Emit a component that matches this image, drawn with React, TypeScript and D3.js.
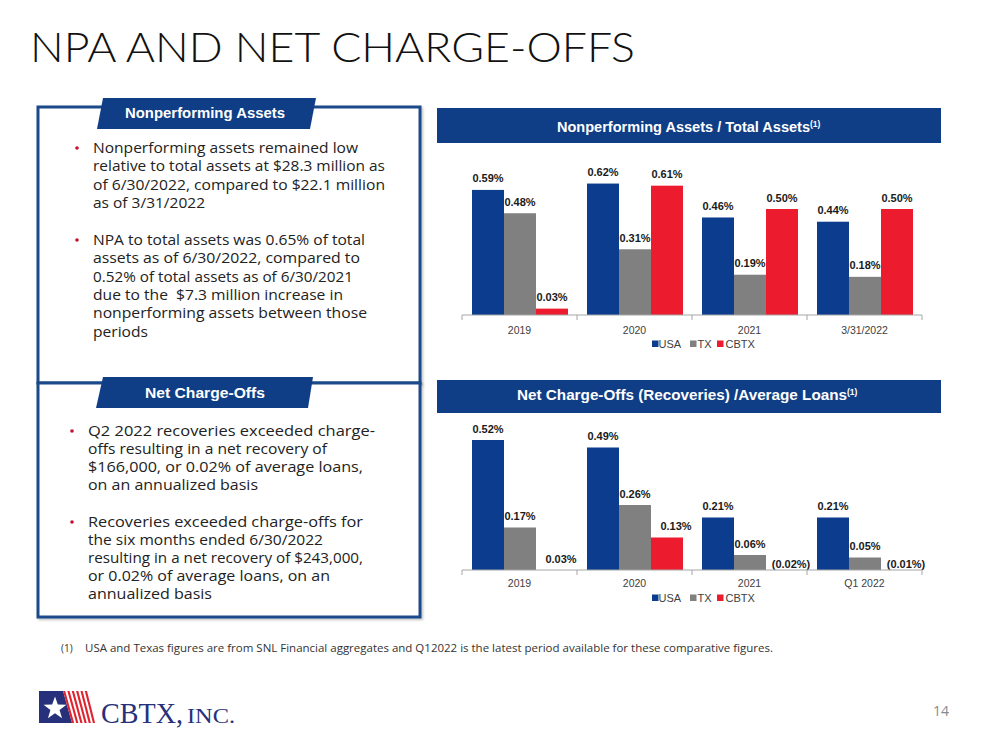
import React from 'react';
import * as d3 from 'd3';

// ---------- Data ----------
const seriesNames = ['USA', 'TX', 'CBTX'];
const seriesColors = ['#0b3c8d', '#808080', '#ec1b2e'];

const npaCategories = ['2019', '2020', '2021', '3/31/2022'];
const npaUSA = [0.59, 0.62, 0.46, 0.44];
const npaTX = [0.48, 0.31, 0.19, 0.18];
const npaCBTX = [0.03, 0.61, 0.5, 0.5];

const ncoCategories = ['2019', '2020', '2021', 'Q1 2022'];
const ncoUSA = [0.52, 0.49, 0.21, 0.21];
const ncoTX = [0.17, 0.26, 0.06, 0.05];
const ncoCBTX = [0.0, 0.13, -0.02, -0.01];
const ncoCBTXLabels = ['0.03%', '0.13%', '(0.02%)', '(0.01%)'];

const npaBullets: { lines: string[]; widths: number[] }[] = [
  {
    lines: [
      'Nonperforming assets remained low',
      'relative to total assets at $28.3 million as',
      'of 6/30/2022, compared to $22.1 million',
      'as of 3/31/2022',
    ],
    widths: [265, 292, 292, 112],
  },
  {
    lines: [
      'NPA to total assets was 0.65% of total',
      'assets as of 6/30/2022, compared to',
      '0.52% of total assets as of 6/30/2021',
      'due to the  $7.3 million increase in',
      'nonperforming assets between those',
      'periods',
    ],
    widths: [272, 267, 260, 250, 274, 55],
  },
];

const ncoBullets: { lines: string[]; widths: number[] }[] = [
  {
    lines: [
      'Q2 2022 recoveries exceeded charge-',
      'offs resulting in a net recovery of',
      '$166,000, or 0.02% of average loans,',
      'on an annualized basis',
    ],
    widths: [287, 239, 275, 170],
  },
  {
    lines: [
      'Recoveries exceeded charge-offs for',
      'the six months ended 6/30/2022',
      'resulting in a net recovery of $243,000,',
      'or 0.02% of average loans, on an',
      'annualized basis',
    ],
    widths: [275, 235, 275, 242, 124],
  },
];

const fmt = (v: number) =>
  v < 0 ? `(${Math.abs(v).toFixed(2)}%)` : `${v.toFixed(2)}%`;

const NAVY = '#0f3e86';
const BOX = '#1d4a8a';
const FONT = "'Open Sans', 'Liberation Sans', Arial, sans-serif";
const LAB = "'Liberation Sans', Arial, sans-serif";

type ChartProps = {
  categories: string[];
  series: number[][];
  labels: string[][];
  baseY: number;
  pxPerUnit: number;
  catY: number;
  legendY: number;
  labelDx: number[];
};

function BarChart({ categories, series, labels, baseY, pxPerUnit, catY, legendY, labelDx }: ChartProps) {
  const x0 = d3.scaleBand<string>().domain(categories).range([462, 922]).paddingInner(0).paddingOuter(0);
  const x1 = d3
    .scaleBand<string>()
    .domain(seriesNames)
    .range([10, x0.bandwidth() - 9])
    .padding(0);
  const y = d3.scaleLinear().domain([0, 1]).range([baseY, baseY - pxPerUnit]);
  const ticks = [...categories.map((c) => x0(c) as number), 922];

  const legendX = [652, 690, 717];
  const legendTextX = [658, 697, 725];

  return (
    <g>
      {categories.map((c, i) => (
        <g key={c} transform={`translate(${x0(c)},0)`}>
          {seriesNames.map((s, j) => {
            const v = series[j][i];
            const vv = Math.max(0, v);
            const top = y(vv);
            const bx = x1(s) as number;
            const bw = x1.bandwidth();
            return (
              <g key={s}>
                {vv > 0 && (
                  <rect x={bx} y={top} width={bw} height={y(0) - top} fill={seriesColors[j]} />
                )}
                <text
                  x={bx + bw / 2 + labelDx[j]}
                  y={v < 0 ? y(0) - 2.5 : top - 7.5}
                  textAnchor="middle"
                  fontFamily={LAB}
                  fontWeight="bold"
                  fontSize={11}
                  fill="#1a1a1a"
                >
                  {labels[j][i]}
                </text>
              </g>
            );
          })}
          <text
            x={x0.bandwidth() / 2}
            y={catY}
            textAnchor="middle"
            fontFamily={LAB}
            fontSize={10.5}
            fill="#404040"
          >
            {c}
          </text>
        </g>
      ))}
      <line x1={462} x2={922} y1={baseY} y2={baseY} stroke="#a6a6a6" strokeWidth={1} />
      {ticks.map((t, i) => (
        <line key={i} x1={t} x2={t} y1={baseY} y2={baseY + 5} stroke="#a6a6a6" strokeWidth={1} />
      ))}
      {seriesNames.map((s, j) => (
        <g key={s}>
          <rect x={legendX[j]} y={legendY - 3.5} width={6.5} height={6.5} fill={seriesColors[j]} />
          <text x={legendTextX[j] + 0.5} y={legendY + 4} fontFamily={LAB} fontSize={11} fill="#404040">
            {s}
          </text>
        </g>
      ))}
    </g>
  );
}

function Bullets({
  items,
  startYs,
  dotX,
  textX,
  step,
}: {
  items: { lines: string[]; widths: number[] }[];
  startYs: number[];
  dotX: number;
  textX: number;
  step: number;
}) {
  return (
    <g>
      {items.map((it, k) => (
        <g key={k}>
          <circle cx={dotX} cy={startYs[k] - 5} r={1.8} fill="#c8102e" />
          {it.lines.map((l, i) => (
            <text
              key={i}
              x={textX}
              y={startYs[k] + i * step}
              fontFamily={FONT}
              fontSize={15}
              fill="#222"
              textLength={it.widths[i]}
              lengthAdjust="spacingAndGlyphs"
              style={{ whiteSpace: 'pre' }}
            >
              {l}
            </text>
          ))}
        </g>
      ))}
    </g>
  );
}

function starPoints(cx: number, cy: number, R: number, r: number) {
  const pts: string[] = [];
  for (let i = 0; i < 10; i++) {
    const a = -Math.PI / 2 + (i * Math.PI) / 5;
    const rad = i % 2 === 0 ? R : r;
    pts.push(`${cx + rad * Math.cos(a)},${cy + rad * Math.sin(a)}`);
  }
  return pts.join(' ');
}

export default function App() {
  const stripes = d3.range(6);
  return (
    <svg
      width={999}
      height={750}
      style={{ position: 'absolute', left: 0, top: 0, background: '#ffffff' }}
    >
      <defs>
        <filter id="sh" x="-5%" y="-5%" width="110%" height="110%">
          <feDropShadow dx="1.5" dy="1.5" stdDeviation="1.2" floodColor="#000" floodOpacity="0.25" />
        </filter>
      </defs>
      <rect x={0} y={0} width={999} height={750} fill="#fff" />

      {/* Title */}
      <text
        x={30}
        y={62}
        fontFamily="'Lato', 'DejaVu Sans', sans-serif"
        fontWeight={300}
        fontSize={41}
        fill="#111"
        textLength={605}
        lengthAdjust="spacingAndGlyphs"
      >
        NPA AND NET CHARGE-OFFS
      </text>
      <line x1={25} x2={957} y1={83} y2={83} stroke="#3f6696" strokeWidth={2} filter="url(#sh)" />

      {/* Left boxes */}
      <rect x={38} y={107} width={382} height={276} fill="#fff" stroke={BOX} strokeWidth={3} filter="url(#sh)" />
      <rect x={38} y={383} width={382} height={234} fill="#fff" stroke={BOX} strokeWidth={3} filter="url(#sh)" />

      {/* Tabs */}
      <polygon points="103,98 316,98 310,129 97,129" fill={NAVY} />
      <text
        x={205}
        y={118}
        textAnchor="middle"
        fontFamily={LAB}
        fontWeight="bold"
        fontSize={14}
        fill="#fff"
        textLength={160}
        lengthAdjust="spacingAndGlyphs"
      >
        Nonperforming Assets
      </text>
      <polygon points="103,377 313,377 308,408 96,408" fill={NAVY} />
      <text
        x={205}
        y={398}
        textAnchor="middle"
        fontFamily={LAB}
        fontWeight="bold"
        fontSize={14}
        fill="#fff"
        textLength={120}
        lengthAdjust="spacingAndGlyphs"
      >
        Net Charge-Offs
      </text>

      <Bullets items={npaBullets} startYs={[153, 245]} dotX={77} textX={93} step={18.3} />
      <Bullets items={ncoBullets} startYs={[436, 527]} dotX={72} textX={88} step={18.1} />

      {/* Chart headers */}
      <rect x={437} y={108} width={504} height={35} fill={NAVY} />
      <text x={557} y={132} fontFamily={LAB} fontWeight="bold" fontSize={14} fill="#fff" textLength={253} lengthAdjust="spacingAndGlyphs">
        Nonperforming Assets / Total Assets
      </text>
      <text x={810} y={127} fontFamily={LAB} fontWeight="bold" fontSize={8.5} fill="#fff">
        (1)
      </text>

      <rect x={437} y={380} width={504} height={33} fill={NAVY} />
      <text x={517} y={400} fontFamily={LAB} fontWeight="bold" fontSize={14} fill="#fff" textLength={330} lengthAdjust="spacingAndGlyphs">
        Net Charge-Offs (Recoveries) /Average Loans
      </text>
      <text x={847} y={395} fontFamily={LAB} fontWeight="bold" fontSize={8.5} fill="#fff">
        (1)
      </text>

      {/* Charts */}
      <BarChart
        categories={npaCategories}
        series={[npaUSA, npaTX, npaCBTX]}
        labels={[npaUSA.map(fmt), npaTX.map(fmt), npaCBTX.map(fmt)]}
        baseY={315}
        pxPerUnit={212}
        catY={334}
        legendY={344}
        labelDx={[0, 0, 0]}
      />
      <BarChart
        categories={ncoCategories}
        series={[ncoUSA, ncoTX, ncoCBTX]}
        labels={[ncoUSA.map(fmt), ncoTX.map(fmt), ncoCBTXLabels]}
        baseY={570}
        pxPerUnit={250}
        catY={587}
        legendY={598}
        labelDx={[0, 0, 9]}
      />

      {/* Footnote */}
      <text x={61} y={652} fontFamily={FONT} fontSize={10} fill="#333">
        (1)
      </text>
      <text x={85} y={652} fontFamily={FONT} fontSize={10} fill="#333" textLength={688} lengthAdjust="spacingAndGlyphs">
        USA and Texas figures are from SNL Financial aggregates and Q12022 is the latest period available for these comparative figures.
      </text>

      <line x1={25} x2={962} y1={675} y2={675} stroke="#262626" strokeWidth={2} filter="url(#sh)" />

      {/* Logo */}
      <polygon points="39,691 63,691 72,723 39,723" fill="#27307a" />
      {stripes.map((i) => {
        const w = 24 / 11;
        const xt = 63 + i * 2 * w;
        const xb = 72 + i * 2 * w * (23 / 24);
        return (
          <polygon
            key={i}
            points={`${xt},691 ${xt + w},691 ${xb + w},723 ${xb},723`}
            fill="#e0242f"
          />
        );
      })}
      <polygon points={starPoints(55, 708.5, 12, 4.8)} fill="#fff" />
      <text
        x={101}
        y={723}
        fontFamily="'Liberation Serif', 'DejaVu Serif', serif"
        fontSize={30}
        fill="#27307a"
        textLength={82}
        lengthAdjust="spacingAndGlyphs"
      >
        CBTX,
      </text>
      <text
        x={187}
        y={723}
        fontFamily="'Liberation Serif', 'DejaVu Serif', serif"
        fontSize={21}
        fill="#27307a"
        textLength={48}
        lengthAdjust="spacingAndGlyphs"
      >
        INC.
      </text>

      <text x={949} y={716} textAnchor="end" fontFamily={FONT} fontSize={14} fill="#8a8a8a">
        14
      </text>
    </svg>
  );
}
